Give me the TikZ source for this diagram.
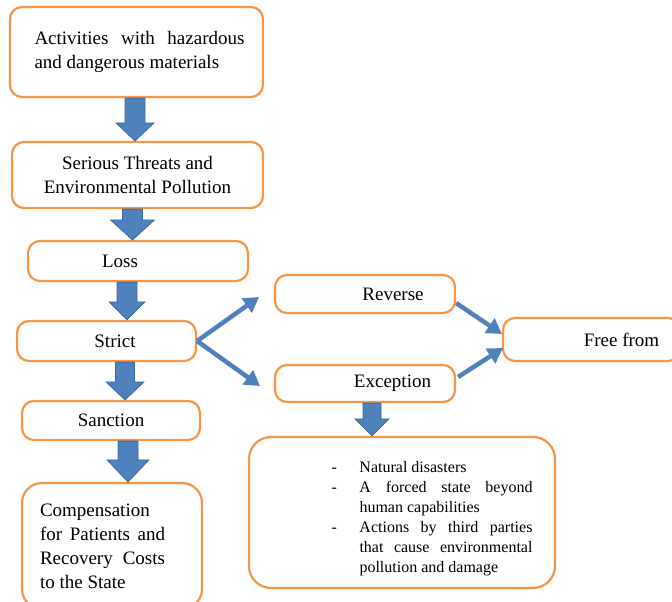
\documentclass[tikz,border=0pt]{standalone}
\usepackage{fontspec}
\setmainfont{Liberation Serif}
\usetikzlibrary{calc,arrows.meta}
\definecolor{boxorange}{HTML}{F79646}
\definecolor{arrblue}{HTML}{4F81BD}
\definecolor{arrdark}{HTML}{3C6A9E}
\hyphenpenalty=10000
\tolerance=10000
% #1 top, #2 bottom, #3 shaft half width, #4 head half width, #5 head length
\newcommand\blkarrow[5]{%
  \draw[blk] let \p1=(#1), \p2=(#2) in
    (\x1-#3pt,\y1) -- (\x1+#3pt,\y1) -- (\x1+#3pt,\y2+#5pt) -- (\x1+#4pt,\y2+#5pt)
    -- (\x1,\y2) -- (\x1-#4pt,\y2+#5pt) -- (\x1-#3pt,\y2+#5pt) -- cycle;}
\begin{document}
\begin{tikzpicture}[x=1pt,y=-1pt,
  box/.style={draw=boxorange, line width=2.2pt, rounded corners=12pt, fill=white,
    inner sep=0pt, font=\fontsize{19}{24}\selectfont},
  blk/.style={draw=arrdark, fill=arrblue, line width=0.8pt},
  thinarr/.style={draw=arrblue, line width=4.5pt, -{Triangle[length=15pt,width=17pt]}}]
\useasboundingbox (0,0) rectangle (672,602);

\node[box, minimum width=253pt, minimum height=90pt] (acts) at (136.5,52)
  {\hspace*{6pt}\parbox{210pt}{Activities with hazardous and dangerous materials}};
\node[box, minimum width=251pt, minimum height=66pt, align=center] (threats) at (137.5,175)
  {Serious Threats and\\Environmental Pollution};
\node[box, minimum width=220pt, minimum height=40pt] (loss) at (138,261) {Loss\hspace*{36pt}};
\node[box, minimum width=179pt, minimum height=40pt] (strict) at (106.5,341) {\hspace*{17pt}Strict};
\node[box, minimum width=178pt, minimum height=39pt] (sanction) at (111,420.5) {Sanction};
\node[box, rounded corners=20pt, minimum width=180pt, minimum height=126pt] (comp) at (112,546)
  {\parbox{125pt}{Compensation for Patients and Recovery Costs to the State}\hspace*{19pt}};
\node[box, minimum width=180pt, minimum height=38pt] (reverse) at (365,294) {\hspace*{56pt}Reverse};
\node[box, minimum width=180pt, minimum height=37pt] (exception) at (365,383.5) {\hspace*{55pt}Exception};
\node[box, minimum width=177pt, minimum height=43pt] (free) at (591.5,339.5) {\hspace*{60pt}Free from};
\node[box, rounded corners=22pt, minimum width=306pt, minimum height=151pt] (bullets) at (402,512.5)
  {\hspace*{60pt}\parbox{201pt}{\fontsize{16}{20}\selectfont
    \vspace*{12pt}
    \hangindent=28pt\hangafter=1\noindent\makebox[28pt][l]{-}Natural disasters\par
    \hangindent=28pt\hangafter=1\noindent\makebox[28pt][l]{-}A forced state beyond human capabilities\par
    \hangindent=28pt\hangafter=1\noindent\makebox[28pt][l]{-}Actions by third parties that cause environmental pollution and damage\par}};

\blkarrow{$(acts.south)+(-1.5,0)$}{threats.north}{10}{19}{18}
\blkarrow{$(threats.south)+(-5,0)$}{loss.north}{10}{22}{20}
\blkarrow{$(loss.south)+(-11,0)$}{strict.north}{10}{18}{18}
\blkarrow{$(strict.south)+(18.5,0)$}{sanction.north}{9.5}{19}{18}
\blkarrow{$(sanction.south)+(17,0)$}{comp.north}{10}{21}{22}
\blkarrow{$(exception.south)+(7,0)$}{bullets.north}{9}{17}{17}

\coordinate (t1) at (259,297);
\coordinate (t2) at (260,386);
\coordinate (t3) at (502,334);
\coordinate (t4) at (503,348);
\draw[thinarr] (strict.east) -- (t1);
\draw[thinarr] (strict.east) -- (t2);
\draw[thinarr] ($(reverse.east)+(0,9)$) -- (t3);
\draw[thinarr] ($(exception.east)+(2,-6.5)$) -- (t4);
\end{tikzpicture}
\end{document}
